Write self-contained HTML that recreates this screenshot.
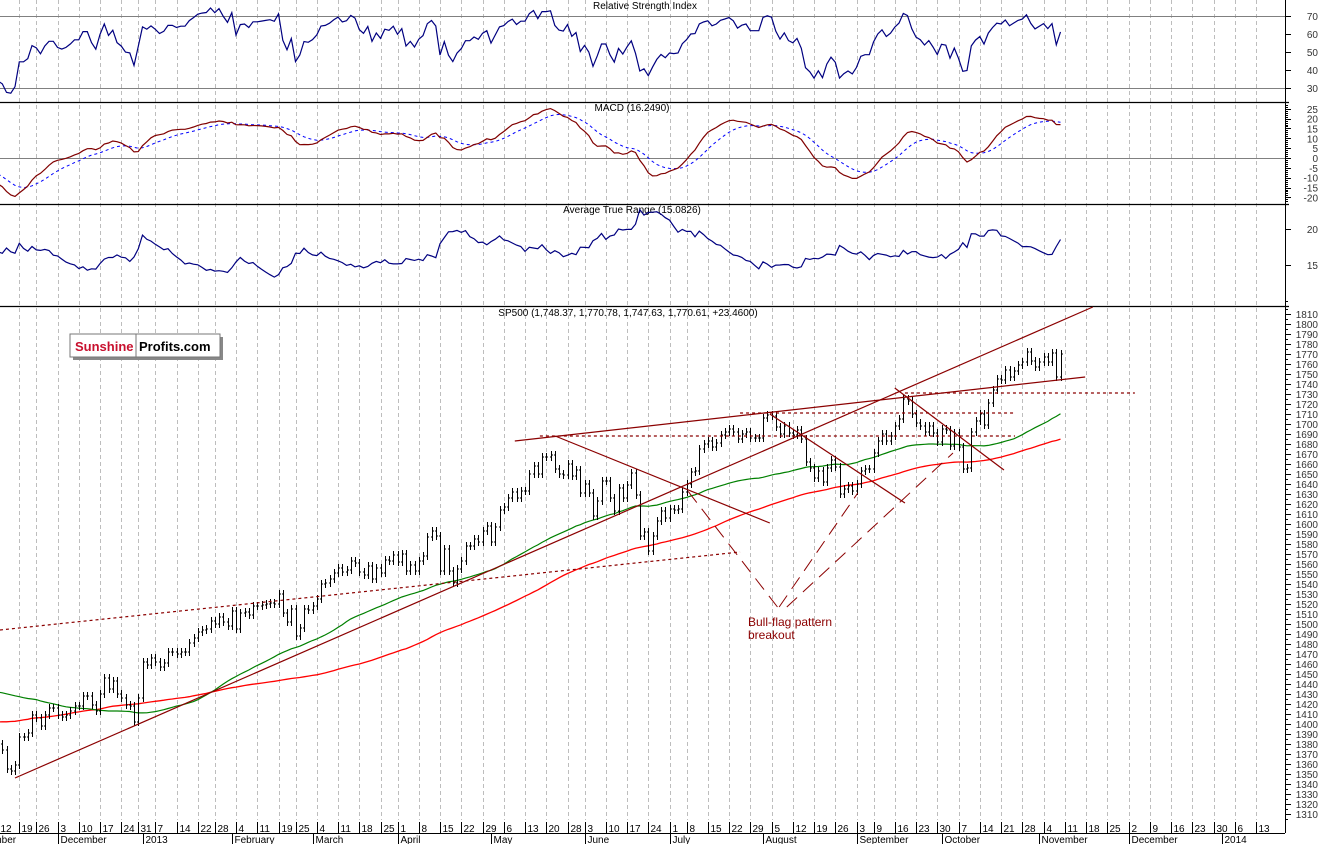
<!DOCTYPE html>
<html><head><meta charset="utf-8"><style>
html,body{margin:0;padding:0;background:#fff;}
svg{display:block;font-family:"Liberation Sans Narrow","Liberation Sans",sans-serif;}
</style></head><body>
<svg id="chart" width="1321" height="844" viewBox="0 0 1321 844" xmlns="http://www.w3.org/2000/svg">
<rect width="1321" height="844" fill="#fff"/>
<g id="grid"></g>
<g id="panels"></g>
<g id="marks"></g>
<g id="axes"></g>
<g>
<rect x="73" y="337" width="150" height="23" fill="#888"/>
<rect x="70" y="334" width="150" height="23" fill="#fff" stroke="#777"/>
<line x1="136" y1="334" x2="136" y2="357" stroke="#777"/>
<text x="75" y="351" font-family="Liberation Sans,sans-serif" font-weight="bold" font-size="13" fill="#c8102e">Sunshine</text>
<text x="139" y="351" font-family="Liberation Sans,sans-serif" font-weight="bold" font-size="13" fill="#000">Profits.com</text>
</g>
<text x="748" y="626" font-size="12" fill="#8b0000">Bull-flag pattern</text>
<text x="748" y="639" font-size="12" fill="#8b0000">breakout</text>
</svg>
<script>
// ---- data ----
const priorCloses = [1345,1358,1355,1325,1335,1313,1320,1329,1316,1362,
1365,1374,1367,1354,1352,1341,1341,1325,1334,1356,1353,1363,1374,1376,1362,1351,1338,1361,1386,1379,
1379,1375,1365,1390,1394,1401,1402,1403,1405,1406,1404,1415,1418,1418,1419,1413,1402,1412,1411,1410,1400,1407,1406,
1404,1409,1432,1438,1430,1434,1437,1459,1466,1461,1460,1459,1461,1456,1441,1433,1447,1440,1441,
1444,1446,1450,1461,1455,1441,1433,1432,1429,1428,1441,1455,1460,1458,1433,1433,1413,1408,1412,1412,1412,
1427,1414,1418,1428,1394,1377,1379];
const closes = [1380,1374,1355,1353,1359,1387,1387,1391,1409,1406,1398,1409,1416,1416,
1409,1407,1409,1413,1418,1418,1428,1428,1419,1413,1430,1446,1435,1443,1430,1426,1419,1418,1402,1426,
1462,1459,1466,1462,1457,1461,1472,1472,1470,1472,1472,1481,1486,1492,1494,1495,1503,1500,1507,1502,1498,
1513,1495,1511,1512,1509,1518,1518,1519,1520,1521,1520,1530,1511,1502,1515,1488,1496,1515,1514,
1518,1525,1540,1541,1545,1551,1556,1552,1554,1563,1561,1552,1549,1558,1545,1556,1551,1564,1563,1569,
1562,1570,1553,1559,1553,1563,1568,1587,1593,1588,1553,1575,1553,1541,1555,1563,1578,1578,1585,1582,1593,1598,
1582,1597,1614,1617,1626,1632,1626,1633,1633,1650,1658,1650,1667,1667,1669,1655,1650,1649,1660,1648,1654,1631,
1640,1631,1608,1623,1643,1643,1626,1613,1636,1626,1639,1651,1629,1588,1592,1573,1588,1603,1613,1606,
1615,1614,1615,1632,1640,1652,1653,1675,1680,1683,1677,1681,1689,1692,1695,1692,1685,1690,1692,1686,1686,1686,
1706,1709,1708,1697,1690,1698,1691,1689,1694,1685,1662,1656,1646,1653,1642,1656,1664,1657,1630,1635,1638,1633,
1640,1653,1655,1655,1671,1683,1690,1683,1688,1698,1705,1725,1723,1710,1701,1698,1692,1698,1691,1682,
1695,1694,1678,1691,1677,1655,1656,1692,1703,1710,1699,1721,1734,1745,1744,1754,1747,1753,1759,1762,1772,1763,1757,
1762,1767,1762,1771,1747,1770];
const holidays = ["2012-11-22","2012-12-25","2013-01-01","2013-01-21","2013-02-18","2013-03-29","2013-05-27","2013-07-04","2013-09-02"];
const monthNames = ["January","February","March","April","May","June","July","August","September","October","November","December"];
const rsiTicks = [70,60,50,40,30];
const macdTicks = [25,20,15,10,5,0,-5,-10,-15,-20];
const atrTicks = [20,15];
const priceTicks = [];
for (let p = 1810; p >= 1310; p -= 10) priceTicks.push(p);
// trendlines: [index, price] pairs
const trendSolid = [[[4,1346],[257.6,1818]],[[121.6,1683],[255.8,1747]],[[131.1,1688],[181.6,1601]],[[181.6,1710],[213.4,1621]],[[211,1736],[236.7,1654]]];
const trendDotted = [[[0.47,1494],[174.6,1572]],[[127.5,1688],[239.3,1688]],[[174.6,1711],[239.3,1711]],[[213.4,1731],[267.5,1731]]];
const flagLines = [[[183.4,1517],[161.6,1637]],[[183.8,1517],[202.3,1631]],[[185.6,1517],[224.7,1671]]];

// ---- scales ----
const X0 = -2, DX = 4.25, AXIS_X = 1285;
const xOf = i => X0 + i * DX;
const yP = p => 314 + (1810 - p);
const yR = v => 16 + (70 - v) * 1.8;
const yM = v => 158 - v * 1.97;
const yA = v => 229 - (v - 20) * 7.2;

const NS = "http://www.w3.org/2000/svg";
function mk(tag, attrs, parent) {
  const e = document.createElementNS(NS, tag);
  for (const k in attrs) e.setAttribute(k, attrs[k]);
  parent.appendChild(e);
  return e;
}
const gGrid = document.getElementById('grid');
const gPanels = document.getElementById('panels');
const gMarks = document.getElementById('marks');
const gAxes = document.getElementById('axes');

// ---- calendar ----
const dates = [];
{
  let d = new Date(Date.UTC(2012, 10, 12));
  const end = new Date(Date.UTC(2014, 0, 17));
  let n = 0;
  while (d <= end) {
    const wd = d.getUTCDay();
    const iso = d.toISOString().slice(0, 10);
    if (wd !== 0 && wd !== 6 && !(n < closes.length && holidays.includes(iso))) {
      dates.push(new Date(d));
      n++;
    }
    d = new Date(d.getTime() + 86400000);
  }
}

// ---- grid, date axis ----
let prevWeek = -1, prevMonth = dates[0].getUTCMonth();
dates.forEach((d, i) => {
  const x = Math.round(xOf(i)) + 0.5;
  const wk = Math.floor((d.getTime() / 86400000 + 3) / 7);
  if (wk !== prevWeek) {
    prevWeek = wk;
    const gl = mk('line', {x1: x, y1: 0, x2: x, y2: 820, stroke: '#bdbdbd', 'stroke-dasharray': '4,3'}, gGrid);
    
    
    mk('line', {x1: x, y1: 822, x2: x, y2: 833, stroke: '#000'}, gAxes);
    const t = mk('text', {x: x + 2, y: 832, 'font-size': 10, fill: '#000'}, gAxes);
    t.textContent = d.getUTCDate();
    
    
  }
  if (d.getUTCMonth() !== prevMonth) {
    prevMonth = d.getUTCMonth();
    mk('line', {x1: x, y1: 833, x2: x, y2: 844, stroke: '#000'}, gAxes);
    const t = mk('text', {x: x + 2, y: 843, 'font-size': 10, fill: '#000'}, gAxes);
    t.textContent = prevMonth === 0 ? String(d.getUTCFullYear()) : monthNames[prevMonth];
    
    
  }
});
{
  const t = mk('text', {x: -30, y: 843, 'font-size': 10, fill: '#000'}, gAxes);
  t.textContent = 'November';
  
  
}
mk('line', {x1: 0, y1: 833.5, x2: AXIS_X, y2: 833.5, stroke: '#000'}, gAxes);

// ---- panel frames ----
[102.5, 204.5, 306.5].forEach(y => {
  const l = mk('line', {x1: 0, y1: y, x2: AXIS_X + 4, y2: y, stroke: '#000', 'stroke-width': 1.2}, gPanels);
  
  
});
mk('line', {x1: AXIS_X + 0.5, y1: 0, x2: AXIS_X + 0.5, y2: 833, stroke: '#000'}, gAxes);
[[yR(70), 'rsi-overbought-line'], [yR(30), 'rsi-oversold-line'], [yM(0), 'macd-zero-line']].forEach(([y, n]) => {
  const l = mk('line', {x1: 0, y1: Math.round(y) + 0.5, x2: AXIS_X, y2: Math.round(y) + 0.5, stroke: '#808080'}, gPanels);
  
  
});

// titles
[[645, 9, 'Relative Strength Index', 'rsi-title'], [632, 111, 'MACD (16.2490)', 'macd-title'],
 [632, 213, 'Average True Range (15.0826)', 'atr-title'],
 [628, 316, 'SP500 (1,748.37, 1,770.78, 1,747.63, 1,770.61, +23.4600)', 'price-title']].forEach(([x, y, s, n]) => {
  const t = mk('text', {x: x, y: y, 'font-size': 10, 'text-anchor': 'middle', fill: '#000'}, gPanels);
  t.textContent = s;
  
  
});

// ---- right axes ----
function axisLabels(ticks, fy, name, minorStep, lo, hi) {
  ticks.forEach(v => {
    const y = fy(v);
    mk('line', {x1: AXIS_X, y1: Math.round(y) + 0.5, x2: AXIS_X + 6, y2: Math.round(y) + 0.5, stroke: '#000'}, gAxes);
    const t = mk('text', {x: 1318, y: y + 4, 'font-size': 10, 'text-anchor': 'end', fill: '#333'}, gAxes);
    t.textContent = v;
    
    
  });
  for (let v = lo; v <= hi; v += minorStep) {
    const y = Math.round(fy(v)) + 0.5;
    mk('line', {x1: AXIS_X, y1: y, x2: AXIS_X + 3, y2: y, stroke: '#000'}, gAxes);
  }
}
axisLabels(rsiTicks, yR, 'rsi-axis-label', 10, 30, 90);
axisLabels(macdTicks, yM, 'macd-axis-label', 1, -22, 27);
axisLabels(atrTicks, yA, 'atr-axis-label', 5, 10, 25);
axisLabels(priceTicks, yP, 'price-axis-label', 5, 1305, 1815);

// ---- indicators ----
const all = priorCloses.concat(closes);
const P = priorCloses.length;
function sma(n, i) { let s = 0, c = 0; for (let k = Math.max(0, i - n + 1); k <= i; k++) { s += all[k]; c++; } return s / c; }
function ema(arr, n) { const a = 2 / (n + 1); const out = [arr[0]]; for (let i = 1; i < arr.length; i++) out.push(out[i - 1] + a * (arr[i] - out[i - 1])); return out; }
const e12 = ema(all, 12), e26 = ema(all, 26);
const macd = all.map((v, i) => e12[i] - e26[i]);
const sig = ema(macd, 9);
const rsi = [];
{ let ag = 0, al = 0;
  for (let i = 1; i < all.length; i++) {
    const ch = all[i] - all[i - 1];
    const g = Math.max(ch, 0), l = Math.max(-ch, 0);
    if (i <= 14) { ag += g / 14; al += l / 14; } else { ag = (ag * 13 + g) / 14; al = (al * 13 + l) / 14; }
    rsi[i] = al === 0 ? 100 : 100 - 100 / (1 + ag / al);
  } }
const WICK = 4;
const atr = [];
{ let a = 10;
  for (let i = 1; i < all.length; i++) {
    const o = all[i - 1], c = all[i];
    const h = Math.max(o, c) + WICK, l = Math.min(o, c) - WICK;
    const tr = Math.max(h - l, Math.abs(h - all[i - 1]), Math.abs(l - all[i - 1]));
    a = i <= 14 ? (a * (i - 1) + tr) / i : (a * 13 + tr) / 14;
    atr[i] = a;
  } }

function polyline(vals, fy, attrs, name, clipTop, clipBot) {
  const pts = closes.map((_, i) => xOf(i).toFixed(1) + ',' + Math.min(clipBot, Math.max(clipTop, fy(vals(i)))).toFixed(1)).join(' ');
  const a = Object.assign({points: pts, fill: 'none'}, attrs);
  const e = mk('polyline', a, gMarks);
  
  
}
polyline(i => rsi[P + i], yR, {stroke: '#000080', 'stroke-width': 1.2}, 'rsi-line', 0, 102);
polyline(i => sig[P + i], yM, {stroke: '#0000ff', 'stroke-dasharray': '3,3'}, 'macd-signal-line', 103, 204);
polyline(i => macd[P + i], yM, {stroke: '#800000', 'stroke-width': 1.2}, 'macd-line', 103, 204);
polyline(i => atr[P + i], yA, {stroke: '#000080', 'stroke-width': 1.2}, 'atr-line', 205, 306);
polyline(i => sma(100, P + i), yP, {stroke: '#ff0000', 'stroke-width': 1.3}, 'ma-100-red', 307, 820);
polyline(i => sma(50, P + i), yP, {stroke: '#008000', 'stroke-width': 1.2}, 'ma-50-green', 307, 820);

// ---- price bars ----
closes.forEach((c, i) => {
  const o = i === 0 ? priorCloses[P - 1] : closes[i - 1];
  const h = Math.max(o, c) + WICK, l = Math.min(o, c) - WICK;
  const x = Math.round(xOf(i)) + 0.5;
  const g = mk('g', {stroke: '#000', 'stroke-width': 1}, gMarks);
  
  
  mk('line', {x1: x, y1: yP(h), x2: x, y2: yP(l)}, g);
  mk('line', {x1: x - 1.5, y1: yP(o), x2: x, y2: yP(o)}, g);
  mk('line', {x1: x, y1: yP(c), x2: x + 1.5, y2: yP(c)}, g);
});

// ---- trendlines ----
function tline(seg, attrs, name) {
  const e = mk('line', Object.assign({x1: xOf(seg[0][0]), y1: Math.max(307, yP(seg[0][1])), x2: xOf(seg[1][0]), y2: Math.max(307, yP(seg[1][1]))}, attrs), gMarks);
  
  
}
trendSolid.forEach(s => tline(s, {stroke: '#8b0000', 'stroke-width': 1.2}, 'trendline'));
trendDotted.forEach(s => tline(s, {stroke: '#8b0000', 'stroke-width': 1.2, 'stroke-dasharray': '3,3'}, 'support-resistance-dotted'));
flagLines.forEach(s => tline(s, {stroke: '#8b0000', 'stroke-width': 1, 'stroke-dasharray': '14,8'}, 'bull-flag-dashed-line'));
</script>
</body></html>
